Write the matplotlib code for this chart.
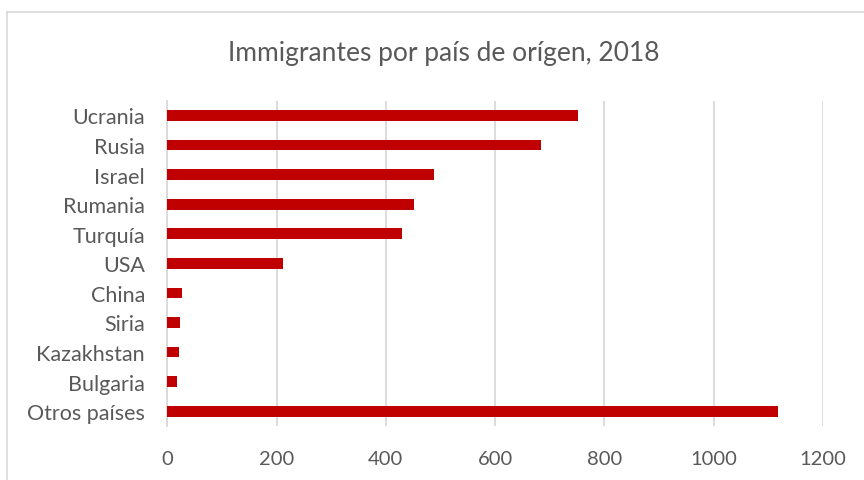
import matplotlib.pyplot as plt
from matplotlib.lines import Line2D

countries = ["Ucrania", "Rusia", "Israel", "Rumania", "Turquía", "USA",
             "China", "Siria", "Kazakhstan", "Bulgaria", "Otros países"]
immigrants = [752, 683, 489, 451, 430, 211, 27, 24, 22, 17, 1118]
x_ticks = [0, 200, 400, 600, 800, 1000, 1200]

BAR = "#C00000"
TEXT = "#595959"
GRID = "#D9D9D9"

plt.rcParams["font.family"] = ["Lato", "DejaVu Sans"]

fig = plt.figure(figsize=(8.64, 4.81), dpi=100)
W, H = 864, 481
left, right, top, bottom = 167.3, 823.0, 101.7, 427.0
ax = fig.add_axes([left / W, 1 - bottom / H, (right - left) / W, (bottom - top) / H])

ypos = list(range(len(countries)))
ax.barh(ypos, immigrants, height=0.36, color=BAR, zorder=3)
ax.set_ylim(len(countries) - 0.5, -0.5)
ax.set_xlim(0, 1200)
ax.set_yticks(ypos)
ax.set_yticklabels(countries)
ax.set_xticks(x_ticks)
ax.set_xticklabels([str(t) for t in x_ticks])

ax.grid(axis="x", color=GRID, linewidth=1.3, zorder=0)
for s in ["top", "right", "bottom"]:
    ax.spines[s].set_visible(False)
ax.spines["left"].set_color(GRID)
ax.spines["left"].set_linewidth(1.3)
ax.tick_params(axis="both", length=0, colors=TEXT)
ax.tick_params(axis="x", labelsize=14.5, pad=17)
ax.tick_params(axis="y", labelsize=15.5, pad=16)

fig.text(444 / W, 1 - 54 / H, "Immigrantes por país de orígen, 2018",
         ha="center", va="center", fontsize=19, color=TEXT)

# chart area border (light gray, cut off on right and bottom)
fig.add_artist(Line2D([7 / W, 1], [1 - 12.5 / H, 1 - 12.5 / H],
                      transform=fig.transFigure, color=GRID, linewidth=1.2))
fig.add_artist(Line2D([7 / W, 7 / W], [0, 1 - 12.5 / H],
                      transform=fig.transFigure, color=GRID, linewidth=1.2))

fig.savefig("out.png", dpi=100)
